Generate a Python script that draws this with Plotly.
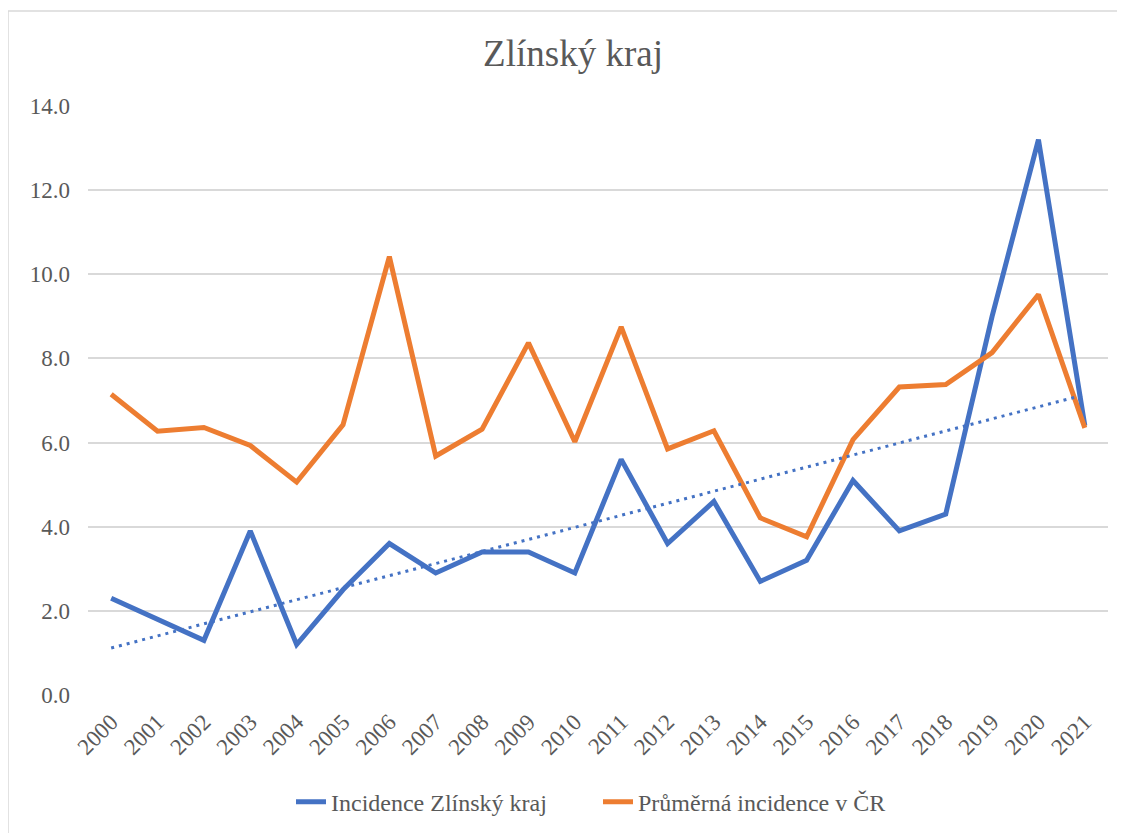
import numpy as np
import plotly.graph_objects as go

years = [str(y) for y in range(2000, 2022)]
zlin = [2.3, 1.8, 1.3, 3.9, 1.2, 2.5, 3.6, 2.9, 3.4, 3.4, 2.9, 5.6, 3.6, 4.6, 2.7, 3.2, 5.1, 3.9, 4.3, 9.0, 13.2, 6.4]
cr = [7.15, 6.27, 6.36, 5.93, 5.06, 6.42, 10.42, 5.68, 6.32, 8.37, 6.02, 8.75, 5.85, 6.28, 4.21, 3.76, 6.07, 7.32, 7.38, 8.14, 9.52, 6.35]

# linear trendline of the regional series (as in the spreadsheet)
idx = np.arange(len(zlin))
slope, intercept = np.polyfit(idx, zlin, 1)
trend = (slope * idx + intercept).tolist()

FONT = "Liberation Serif, Times New Roman, serif"
GRAY = "#595959"

# page body has an 8px default margin; compensate
W, H = 1109, 825

fig = go.Figure()
fig.add_trace(go.Scatter(x=years, y=zlin, mode="lines", name="Incidence Zlínský kraj",
                         line=dict(color="#4472C4", width=5)))
fig.add_trace(go.Scatter(x=years, y=cr, mode="lines", name="Průměrná incidence v ČR",
                         line=dict(color="#ED7D31", width=5)))
fig.add_trace(go.Scatter(x=years, y=trend, mode="lines", showlegend=False,
                         line=dict(color="#4472C4", width=3, dash="3px,5px")))

fig.update_layout(
    width=W, height=H,
    paper_bgcolor="white", plot_bgcolor="white",
    margin=dict(l=80, r=9, t=98, b=138, autoexpand=False),
    title=dict(text="Zlínský kraj", x=565 / W, xanchor="center", y=1 - 45 / H, yanchor="middle",
               font=dict(family=FONT, size=37, color=GRAY)),
    font=dict(family=FONT, color=GRAY, size=23),
    showlegend=True,
    legend=dict(orientation="h", x=0.5, xanchor="center", y=-0.182, yanchor="middle",
                font=dict(family=FONT, size=24, color=GRAY), entrywidth=262,
                bgcolor="rgba(0,0,0,0)"),
    xaxis=dict(type="category", range=[-0.5, 21.5], tickangle=-45, showgrid=False,
               showline=False, zeroline=False, ticks="", ticklabelstandoff=8,
               tickfont=dict(family=FONT, size=23, color=GRAY)),
    yaxis=dict(range=[0, 14], dtick=2, tickformat=".1f", showgrid=True,
               gridcolor="#d9d9d9", gridwidth=1.5, zeroline=False, showline=False,
               ticks="", ticklabelstandoff=17,
               tickfont=dict(family=FONT, size=23, color=GRAY)),
    shapes=[dict(type="rect", xref="paper", yref="paper",
                 x0=(8 - 88) / 1020, x1=1.2, y0=-0.4, y1=(695 - 11) / 589,
                 line=dict(color="#d9d9d9", width=1.5), fillcolor="rgba(0,0,0,0)", layer="below")],
)

fig.write_html("out.html")
